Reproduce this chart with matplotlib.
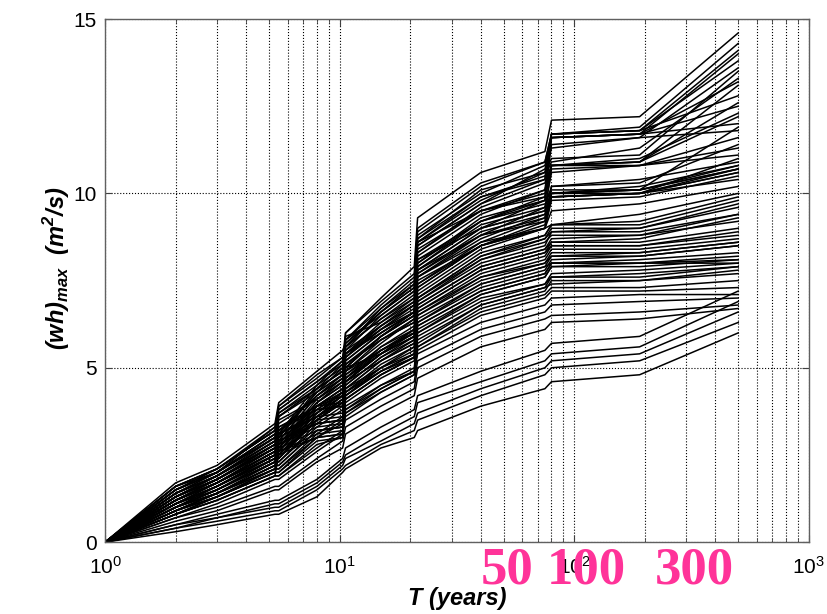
import numpy as np
import matplotlib
matplotlib.use("Agg")
import matplotlib.pyplot as plt
from matplotlib.ticker import NullFormatter, FixedLocator

# ---------------------------------------------------------------
# Data
# ---------------------------------------------------------------
# return periods where each simulated path is sampled [years]
T_knots = [1, 2, 3, 5.3, 5.5, 8, 10.3, 10.6, 15, 20.8, 21.5, 40, 75, 80, 190, 500]

# (wh)_max [m2/s] for each path at the return periods above
paths = [
    [0, 1.6, 2.1, 3.2, 3.9, 4.7, 5.3, 6.0, 7.0, 7.9, 9.3, 10.6, 11.2, 12.1, 12.2, 14.6],
    [0, 1.5, 2.0, 3.0, 3.0, 4.3, 5.0, 5.8, 6.8, 7.6, 8.9, 10.2, 10.9, 11.7, 11.9, 14.3],
    [0, 1.3, 1.9, 2.9, 3.6, 4.4, 5.1, 5.5, 6.5, 7.2, 8.8, 10.0, 10.8, 11.6, 11.7, 14.0],
    [0, 1.7, 2.2, 3.4, 4.0, 4.9, 5.5, 5.7, 6.6, 7.4, 8.6, 9.8, 10.6, 11.7, 11.8, 13.8],
    [0, 1.2, 1.8, 2.7, 2.7, 3.9, 4.2, 5.9, 6.3, 7.0, 8.5, 9.7, 10.7, 11.3, 11.6, 13.6],
    [0, 1.4, 2.0, 3.1, 3.1, 4.5, 5.2, 5.6, 6.7, 7.5, 8.7, 9.9, 10.5, 10.9, 11.3, 13.3],
    [0, 1.1, 1.7, 2.6, 3.3, 3.8, 3.9, 5.4, 6.1, 6.8, 8.3, 9.6, 10.3, 10.8, 10.9, 13.1],
    [0, 1.5, 2.1, 3.2, 3.2, 4.2, 4.8, 6.0, 6.9, 7.7, 9.0, 10.3, 10.9, 11.7, 11.8, 12.8],
    [0, 1.0, 1.5, 2.4, 2.4, 3.6, 3.7, 5.2, 6.0, 6.6, 8.2, 9.4, 10.1, 10.8, 10.9, 12.6],
    [0, 1.3, 1.8, 2.8, 3.5, 4.1, 4.7, 5.3, 6.2, 6.9, 7.9, 9.2, 9.9, 10.8, 11.0, 12.3],
    [0, 1.2, 1.7, 2.7, 2.7, 4.0, 4.5, 5.0, 5.9, 6.5, 7.8, 9.0, 9.8, 11.6, 11.7, 12.0],
    [0, 1.6, 2.0, 3.3, 3.8, 4.6, 5.1, 5.6, 6.4, 7.1, 8.4, 9.5, 10.0, 11.4, 11.6, 11.8],
    [0, 1.1, 1.6, 2.5, 2.5, 3.7, 4.3, 5.1, 5.8, 6.3, 7.6, 8.8, 9.6, 10.6, 10.8, 11.6],
    [0, 1.4, 1.9, 3.0, 3.0, 4.4, 4.9, 5.7, 6.6, 7.3, 8.6, 9.5, 9.9, 10.8, 10.8, 11.3],
    [0, 0.9, 1.4, 2.2, 2.9, 3.4, 3.5, 5.4, 6.0, 6.6, 8.0, 9.2, 9.7, 9.9, 10.0, 11.0],
    [0, 1.0, 1.6, 2.5, 2.5, 3.5, 4.1, 4.8, 5.6, 6.2, 7.4, 8.6, 9.3, 10.2, 10.4, 10.9],
    [0, 1.3, 1.9, 2.9, 3.6, 4.3, 4.8, 5.5, 6.2, 6.8, 8.1, 9.0, 9.5, 10.0, 10.2, 10.8],
    [0, 1.2, 1.7, 2.6, 2.6, 3.9, 4.4, 4.9, 5.7, 6.4, 7.7, 8.9, 9.4, 10.0, 10.1, 10.7],
    [0, 0.9, 1.4, 2.3, 2.3, 3.3, 3.4, 4.9, 5.5, 6.0, 7.3, 8.5, 9.1, 9.9, 10.0, 10.7],
    [0, 1.5, 2.0, 3.1, 3.7, 4.5, 5.0, 5.4, 6.3, 6.9, 7.8, 8.8, 9.2, 10.0, 10.0, 10.6],
    [0, 1.1, 1.6, 2.4, 3.0, 3.6, 4.2, 4.6, 5.4, 6.1, 7.2, 8.4, 9.0, 9.8, 9.9, 10.5],
    [0, 1.0, 1.5, 2.3, 2.3, 3.4, 3.5, 4.7, 5.5, 6.1, 7.5, 8.5, 9.0, 9.5, 9.7, 10.2],
    [0, 1.4, 1.9, 2.9, 2.9, 4.2, 4.7, 5.3, 6.1, 6.6, 7.6, 8.6, 9.0, 9.1, 9.4, 10.0],
    [0, 0.8, 1.3, 2.1, 2.7, 3.2, 3.3, 5.0, 5.4, 5.9, 7.0, 8.2, 8.8, 9.1, 9.1, 9.8],
    [0, 1.2, 1.8, 2.8, 2.8, 4.0, 4.6, 4.9, 5.8, 6.3, 7.0, 8.1, 8.7, 8.9, 9.0, 9.6],
    [0, 1.1, 1.6, 2.5, 3.2, 3.8, 4.3, 4.5, 5.3, 5.9, 6.9, 8.0, 8.5, 8.9, 8.9, 9.4],
    [0, 0.9, 1.4, 2.2, 2.2, 3.2, 3.3, 4.4, 5.0, 5.6, 6.8, 7.9, 8.4, 8.7, 8.8, 9.2],
    [0, 1.3, 1.8, 2.7, 2.7, 3.9, 4.4, 4.7, 5.6, 6.1, 6.8, 7.9, 8.4, 8.6, 8.6, 9.0],
    [0, 1.0, 1.5, 2.3, 2.9, 3.5, 4.0, 4.3, 5.1, 5.6, 6.6, 7.7, 8.2, 8.5, 8.5, 8.8],
    [0, 0.8, 1.3, 2.0, 2.0, 3.0, 3.1, 4.3, 4.9, 5.4, 6.5, 7.6, 8.1, 8.4, 8.4, 8.7],
    [0, 1.2, 1.7, 2.6, 2.6, 3.7, 4.2, 4.5, 5.3, 5.8, 6.5, 7.5, 8.0, 8.2, 8.3, 8.6],
    [0, 1.1, 1.6, 2.4, 3.0, 3.6, 4.1, 4.3, 5.0, 5.5, 6.3, 7.3, 7.8, 8.1, 8.2, 8.5],
    [0, 0.9, 1.4, 2.1, 2.1, 3.1, 3.2, 4.1, 4.8, 5.3, 6.2, 7.2, 7.7, 8.0, 8.1, 8.3],
    [0, 1.4, 1.9, 2.8, 2.8, 4.0, 4.5, 4.6, 5.4, 5.9, 6.4, 7.4, 7.9, 8.0, 8.0, 8.1],
    [0, 1.0, 1.4, 2.2, 2.8, 3.3, 3.8, 4.0, 4.7, 5.2, 6.1, 7.1, 7.6, 7.9, 8.0, 8.0],
    [0, 0.8, 1.2, 1.9, 1.9, 2.8, 3.0, 3.9, 4.5, 5.0, 5.9, 6.9, 7.4, 7.7, 7.8, 8.0],
    [0, 1.2, 1.7, 2.5, 2.5, 3.6, 4.1, 4.2, 5.0, 5.4, 6.0, 7.0, 7.4, 7.6, 7.7, 7.9],
    [0, 1.1, 1.5, 2.3, 2.9, 3.4, 3.9, 4.1, 4.8, 5.3, 5.8, 6.8, 7.3, 7.4, 7.5, 7.8],
    [0, 0.9, 1.3, 2.0, 2.0, 2.9, 3.0, 3.8, 4.4, 4.9, 5.6, 6.6, 7.1, 7.3, 7.3, 7.5],
    [0, 0.7, 1.1, 1.8, 1.8, 2.6, 3.1, 3.7, 4.3, 4.8, 5.5, 6.5, 7.0, 7.2, 7.2, 7.3],
    [0, 1.0, 1.4, 2.1, 2.6, 3.1, 3.6, 3.8, 4.5, 4.9, 5.4, 6.3, 6.8, 7.0, 7.1, 7.1],
    [0, 0.8, 1.2, 1.9, 1.9, 2.7, 3.2, 3.5, 4.1, 4.6, 5.2, 6.1, 6.6, 6.8, 6.9, 7.0],
    [0, 0.7, 1.0, 1.6, 1.6, 2.4, 2.9, 3.3, 3.9, 4.4, 5.0, 5.9, 6.4, 6.5, 6.6, 6.8],
    [0, 0.6, 0.9, 1.5, 1.5, 2.3, 2.7, 3.1, 3.7, 4.2, 4.7, 5.6, 6.1, 6.3, 6.4, 6.7],
    [0, 0.5, 0.8, 1.2, 1.2, 1.8, 2.4, 2.7, 3.3, 3.8, 4.2, 4.9, 5.5, 5.7, 5.9, 7.2],
    [0, 0.5, 0.7, 1.1, 1.1, 1.7, 2.3, 2.5, 3.1, 3.6, 4.0, 4.6, 5.2, 5.4, 5.6, 6.9],
    [0, 0.4, 0.7, 1.0, 1.0, 1.6, 2.2, 2.4, 2.9, 3.4, 3.7, 4.4, 5.0, 5.2, 5.4, 6.6],
    [0, 0.4, 0.6, 0.9, 0.9, 1.5, 2.1, 2.2, 2.8, 3.2, 3.5, 4.2, 4.8, 5.0, 5.2, 6.3],
    [0, 0.3, 0.5, 0.8, 0.8, 1.3, 2.0, 2.1, 2.7, 3.0, 3.2, 3.9, 4.4, 4.6, 4.8, 6.0],
    [0, 1.3, 1.8, 2.8, 3.4, 4.1, 4.6, 5.8, 6.5, 7.2, 8.6, 9.9, 10.4, 11.6, 11.7, 12.5],
    [0, 1.2, 1.7, 2.6, 2.6, 3.8, 3.9, 5.0, 5.9, 6.6, 7.9, 9.1, 9.6, 10.2, 10.3, 11.4],
    [0, 1.5, 2.0, 3.0, 3.6, 4.4, 4.9, 5.2, 6.0, 6.6, 7.4, 8.5, 9.2, 9.9, 10.0, 10.4],
    [0, 1.0, 1.5, 2.4, 2.4, 3.5, 3.6, 4.8, 5.5, 6.0, 7.1, 8.3, 8.8, 9.1, 9.2, 9.9],
    [0, 1.3, 1.8, 2.7, 3.3, 3.9, 4.3, 4.4, 5.2, 5.7, 6.7, 7.8, 8.3, 8.6, 8.7, 9.3],
    [0, 0.9, 1.3, 2.1, 2.1, 3.0, 3.1, 4.6, 5.2, 5.7, 6.6, 7.6, 8.0, 8.3, 8.3, 8.6],
    [0, 1.1, 1.6, 2.4, 2.4, 3.5, 4.0, 4.2, 4.9, 5.3, 6.2, 7.2, 7.7, 8.0, 8.0, 8.2],
    [0, 0.8, 1.2, 1.9, 2.5, 3.0, 3.5, 3.7, 4.4, 4.9, 5.7, 6.8, 7.3, 7.6, 7.6, 7.9],
    [0, 1.4, 1.9, 2.9, 2.9, 4.2, 4.7, 5.1, 5.9, 6.5, 7.7, 8.8, 9.3, 10.0, 10.1, 10.8],
    [0, 1.6, 2.1, 3.2, 3.8, 4.6, 5.2, 5.8, 6.7, 7.4, 8.7, 10.1, 10.6, 11.0, 11.1, 13.5],
    [0, 1.1, 1.7, 2.6, 3.1, 3.7, 4.3, 5.1, 5.8, 6.4, 7.8, 9.0, 9.5, 10.7, 10.8, 11.1],
    [0, 1.4, 2.0, 3.0, 3.7, 4.4, 4.9, 5.6, 6.4, 7.0, 8.3, 9.5, 10.1, 11.6, 11.7, 13.2],
    [0, 1.2, 1.8, 2.7, 2.7, 3.9, 4.0, 5.3, 6.1, 6.7, 8.0, 9.3, 9.8, 10.8, 10.9, 12.2],
    [0, 1.5, 2.0, 3.1, 3.1, 4.3, 4.8, 5.0, 5.9, 6.5, 7.6, 8.7, 9.4, 10.0, 10.1, 10.7],
    [0, 1.1, 1.6, 2.5, 3.1, 3.7, 4.2, 4.4, 5.2, 5.8, 6.9, 8.1, 8.6, 8.8, 8.8, 9.4],
    [0, 1.3, 1.8, 2.7, 3.2, 3.9, 4.4, 4.6, 5.4, 5.9, 6.7, 7.8, 8.3, 8.5, 8.5, 8.9],
    [0, 1.0, 1.4, 2.2, 2.2, 3.2, 3.3, 4.2, 4.9, 5.4, 6.3, 7.4, 7.9, 8.2, 8.2, 8.5],
    [0, 1.2, 1.7, 2.5, 3.1, 3.6, 4.0, 4.1, 4.8, 5.3, 6.0, 7.1, 7.6, 7.9, 7.9, 8.1],
    [0, 0.9, 1.3, 2.0, 2.6, 3.0, 3.4, 3.6, 4.3, 4.8, 5.6, 6.7, 7.2, 7.5, 7.5, 7.7],
    [0, 1.3, 1.9, 2.8, 2.8, 4.1, 4.6, 5.4, 6.2, 6.8, 8.1, 9.2, 9.8, 10.1, 10.1, 11.9],
    [0, 1.6, 2.1, 3.3, 3.9, 4.8, 5.3, 5.6, 6.6, 7.3, 8.5, 9.7, 10.4, 11.7, 11.8, 14.1],
    [0, 1.0, 1.5, 2.3, 2.8, 3.4, 3.5, 4.7, 5.4, 6.0, 7.3, 8.5, 9.0, 9.9, 10.0, 10.6],
    [0, 1.2, 1.7, 2.6, 2.6, 3.8, 4.3, 4.6, 5.5, 6.0, 7.0, 8.2, 8.7, 9.0, 9.0, 9.7],
]

# marked return periods, hand written on the figure
marks = ["50", "100", "300"]

# ---------------------------------------------------------------
# Plot
# ---------------------------------------------------------------
plt.rcParams['font.family'] = ['Liberation Sans', 'DejaVu Sans']

fig = plt.figure(figsize=(8.27, 6.14), dpi=100)
ax = fig.add_axes([0.127, 0.117, 0.851, 0.852])

for p in paths:
    ax.plot(T_knots, p, color="k", lw=1.1)

ax.set_xscale("log")
ax.set_xlim(1, 1000)
ax.set_ylim(0, 15)
ax.yaxis.set_major_locator(FixedLocator([0, 5, 10, 15]))
ax.xaxis.set_minor_formatter(NullFormatter())

ax.set_axisbelow(True)
ax.grid(True, which="major", axis="both", color="k", ls=":", lw=0.8)
ax.grid(True, which="minor", axis="x", color="k", ls=":", lw=0.8)

ax.tick_params(which="both", direction="in", top=True, right=True,
               labelsize=15, color="#404040")
ax.tick_params(which="major", length=5)
ax.tick_params(which="minor", length=3)
ax.tick_params(axis="x", which="major", pad=10)
ax.tick_params(axis="y", which="major", pad=6)
for s in ax.spines.values():
    s.set_color("#606060")
    s.set_linewidth(1.0)

ax.set_xlabel("T (years)", fontsize=17, fontweight="bold", style="italic")
ax.xaxis.set_label_coords(0.5, -0.085)
ax.xaxis.label.set_va("top")
ax.set_ylabel(r"(wh)$_{\mathdefault{max}}$  (m$^{\mathdefault{2}}$/s)",
              fontsize=17, fontweight="bold", style="italic")
ax.yaxis.set_label_coords(-0.047, 0.524)

# pink annotations over the x tick labels
mark_x = [507, 586, 694]
for txt, xp in zip(marks, mark_x):
    fig.text(xp / 827, (614 - 583) / 614, txt, color="#ff3399",
             family="Liberation Serif", fontweight="bold", fontsize=38,
             ha="center", va="baseline")

fig.savefig("out.png", dpi=100)
